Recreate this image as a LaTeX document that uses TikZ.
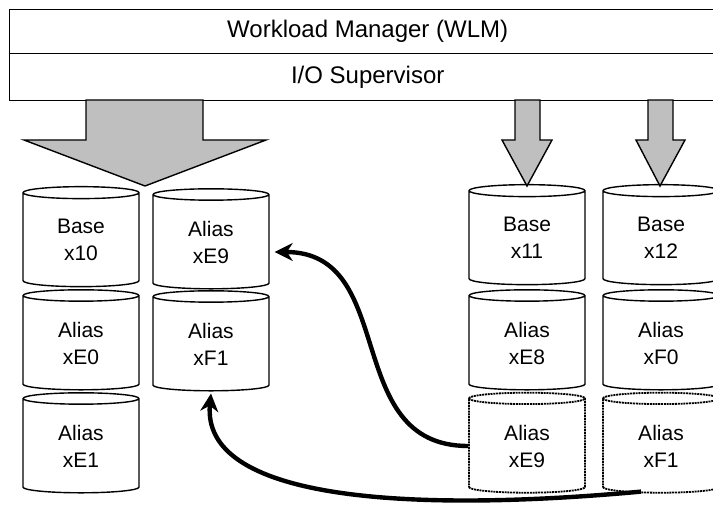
\documentclass[tikz,border=0pt]{standalone}
\usepackage{fontspec}
\setmainfont{Liberation Sans}
\usetikzlibrary{shapes.geometric,arrows.meta}

\tikzset{
  disk/.style={cylinder, shape border rotate=90, draw=black, line width=0.7pt,
    aspect=0.25, minimum width=58pt, minimum height=50pt, inner sep=0pt,
    align=center, font=\fontsize{10.5}{13.5}\selectfont},
  moved/.style={disk, dash pattern=on 1pt off 0.4pt, line width=0.9pt},
  layer/.style={rectangle, draw=black, line width=0.7pt, anchor=north west,
    minimum width=358pt, font=\fontsize{12}{14}\selectfont},
  blockarrow/.style={draw=black, line width=0.7pt, fill=gray!50},
  swap/.style={line width=2.2pt, -{Stealth[length=9pt,width=9pt]}}
}

\begin{document}
\begin{tikzpicture}[x=0.5pt,y=-0.5pt]
  \useasboundingbox (0,0) rectangle (713,508);

  % supervisor layers
  \node[layer, minimum height=22pt] (wlm) at (9,9) {Workload Manager (WLM)};
  \node[layer, minimum height=23.5pt] (ios) at (9,53) {I/O Supervisor};

  % block arrows
  \draw[blockarrow] (86,100) -- (86,140) -- (24,140) -- (145,186) -- (266,140) -- (203,140) -- (203,100) -- cycle;
  \draw[blockarrow] (515,100) -- (515,140) -- (502,140) -- (527,186) -- (552,140) -- (540,140) -- (540,100) -- cycle;
  \draw[blockarrow] (648,100) -- (648,140) -- (636,140) -- (660,186) -- (685,140) -- (673,140) -- (673,100) -- cycle;

  % left group
  \node[disk] (b10) at (81,240) {Base\\x10};
  \node[disk] (e0) at (81,343) {Alias\\xE0};
  \node[disk] (e1) at (81,446) {Alias\\xE1};
  \node[disk] (e9l) at (211,242) {Alias\\xE9};
  \node[disk] (f1l) at (211,344) {Alias\\xF1};

  % right group
  \node[disk] (b11) at (527,238) {Base\\x11};
  \node[disk] (e8) at (527,343) {Alias\\xE8};
  \node[moved] (e9r) at (527,446) {Alias\\xE9};
  \node[disk] (b12) at (661,238) {Base\\x12};
  \node[disk] (f0) at (661,343) {Alias\\xF0};
  \node[moved] (f1r) at (661,446) {Alias\\xF1};

  % alias reassignment
  \draw[swap] (e9r.west) .. controls +(-128,0) and +(125,0) .. ([xshift=2.5pt,yshift=-5pt]e9l.east);
  \draw[swap] ([xshift=-10pt,yshift=1pt]f1r.south) .. controls +(-240,22) and +(-10,105) .. ([yshift=-1pt]f1l.south);
\end{tikzpicture}
\end{document}
